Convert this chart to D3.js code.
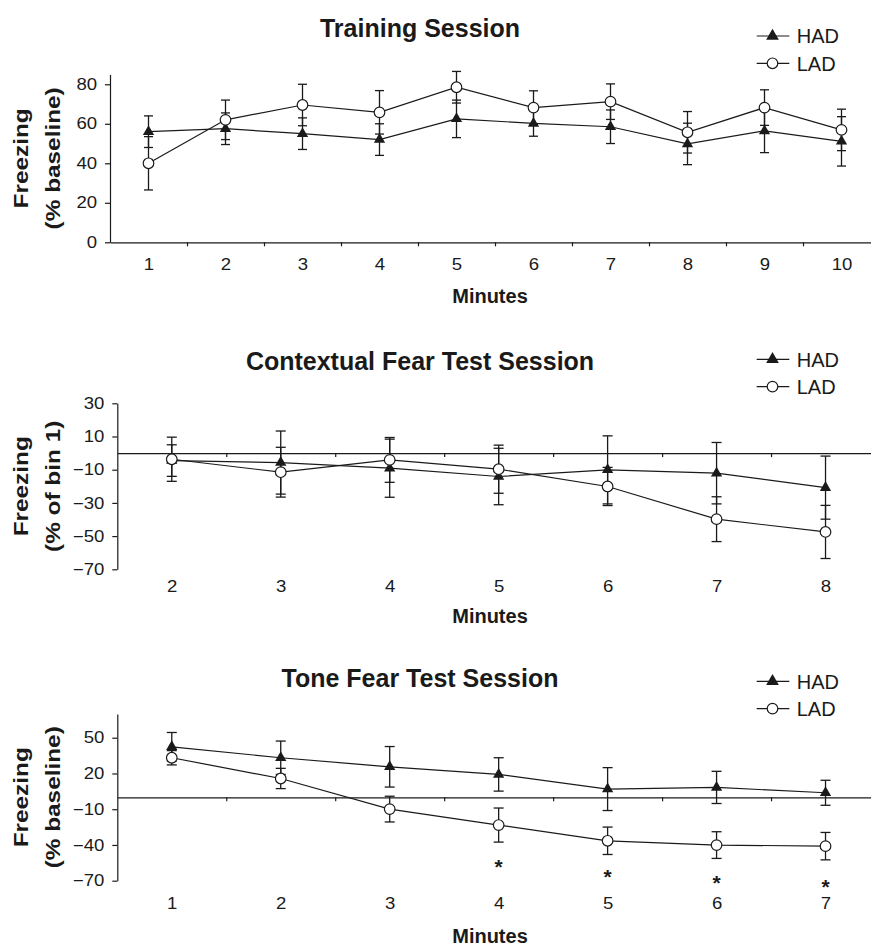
<!DOCTYPE html>
<meta charset="utf-8">
<style>
body { margin: 0; background: #fff; }
svg { display: block; font-family: "Liberation Sans", Arial, sans-serif; }
.axis path, .axis line { stroke: #1a1a1a; stroke-width: 1.2; }
.axis text { fill: #1a1a1a; font-size: 16px; }
</style>
<body>
<script src="https://cdn.jsdelivr.net/npm/d3@7"></script>
<script>
'use strict';

// ---- data ----
const trainMinutes = [1, 2, 3, 4, 5, 6, 7, 8, 9, 10];
const trainHAD    = [56, 57.5, 55, 52, 62.5, 60.2, 58.5, 49.8, 56.4, 51.1];
const trainHADerr = [8, 8, 8, 8, 9.5, 6.5, 8.5, 10.5, 11, 12.5];
const trainLAD    = [40, 62, 69.5, 65.8, 78.5, 68.2, 71.2, 55.7, 68.2, 56.9];
const trainLADerr = [13.5, 10, 10.5, 11, 8, 8.5, 9, 10.5, 9, 10.5];
const trainTicks  = [0, 20, 40, 60, 80];

const ctxMinutes = [2, 3, 4, 5, 6, 7, 8];
const ctxHAD    = [-4.5, -5.7, -9.1, -14.1, -10.1, -12.1, -20.8];
const ctxHADerr = [9.5, 19, 17.5, 17, 20.5, 18.5, 19];
const ctxLAD    = [-3.7, -11.5, -4.1, -9.7, -20.1, -39.8, -47.5];
const ctxLADerr = [13.3, 15, 13.5, 14.5, 11.5, 13.5, 16];
const ctxTicks  = [-70, -50, -30, -10, 10, 30];

const toneMinutes = [1, 2, 3, 4, 5, 6, 7];
const toneHAD    = [42.4, 33.2, 25.6, 19.2, 6.9, 8.3, 3.8];
const toneHADerr = [12, 14, 17, 14, 18, 13.5, 10.5];
const toneLAD    = [33.2, 15.8, -9.9, -23.3, -36.5, -40.1, -41];
const toneLADerr = [6, 8.5, 10.8, 14.3, 11.5, 11.2, 11.5];
const toneTicks  = [-70, -40, -10, 20, 50];
const starMinutes = [4, 5, 6, 7];
const starLevel   = [-54, -62.4, -67.5, -71.2];

// ---- layout ----
const width = 871, height = 946,
      right = 880,          // axes run off the right edge
      ink = "#1a1a1a",
      stretch = 1.16;       // axis text in the figure is set wide

const panels = [
  {title: "Training Session", ylab: "(% baseline)", minutes: trainMinutes,
   had: trainHAD, hadErr: trainHADerr, lad: trainLAD, ladErr: trainLADerr,
   ticks: trainTicks, yDomain: [0, 85], yRange: [242.3, 74.4], left: 110,
   zeroLine: false, titleY: 37, legendY: 36, minutesY: 303, labelPad: 16, cap: 9},
  {title: "Contextual Fear Test Session", ylab: "(% of bin 1)", minutes: ctxMinutes,
   had: ctxHAD, hadErr: ctxHADerr, lad: ctxLAD, ladErr: ctxLADerr,
   ticks: ctxTicks, yDomain: [-70, 30], yRange: [569.3, 403.3], left: 117.3,
   zeroLine: true, titleY: 370, legendY: 359.3, minutesY: 623, labelPad: 11.7, cap: 10},
  {title: "Tone Fear Test Session", ylab: "(% baseline)", minutes: toneMinutes,
   had: toneHAD, hadErr: toneHADerr, lad: toneLAD, ladErr: toneLADerr,
   ticks: toneTicks, yDomain: [-70, 70], yRange: [880.7, 713.9], left: 117.3,
   zeroLine: true, titleY: 687, legendY: 681.3, minutesY: 943, labelPad: 17, cap: 10,
   stars: {minutes: starMinutes, level: starLevel}}
];

const svg = d3.select("body").append("svg")
    .attr("width", width)
    .attr("height", height);

svg.append("rect").attr("width", width).attr("height", height).attr("fill", "#fff");

const triangle = d3.symbol().type(d3.symbolTriangle);

panels.forEach(function(p) {
  const g = svg.append("g");
  const first = p.minutes[0], last = p.minutes[p.minutes.length - 1];

  const x = d3.scaleLinear().domain([first - 0.5, last + 0.5]).range([p.left, right]);
  const y = d3.scaleLinear().domain(p.yDomain).range(p.yRange);
  const base = p.zeroLine ? y(0) : p.yRange[0];

  // left axis
  const yAxis = g.append("g")
      .attr("class", "axis")
      .attr("transform", "translate(" + p.left + ",0)")
      .call(d3.axisLeft(y).tickValues(p.ticks).tickSize(5).tickSizeOuter(0));
  yAxis.selectAll("text")
      .attr("x", -13 / stretch)
      .attr("transform", "scale(" + stretch + ",1)");

  // horizontal axis (or zero line) with ticks between bins
  const bounds = p.minutes.slice(1).map((m) => m - 0.5);
  g.append("g")
      .attr("class", "axis")
      .attr("transform", "translate(0," + base + ")")
      .call(d3.axisBottom(x).tickValues(bounds).tickFormat("").tickSize(4).tickSizeOuter(0));

  // minute labels
  const xLab = g.append("g")
      .attr("class", "axis")
      .attr("transform", "translate(0," + p.yRange[0] + ")")
      .call(d3.axisBottom(x).tickValues(p.minutes).tickFormat(d3.format("d"))
            .tickSize(0).tickPadding(p.labelPad));
  xLab.select(".domain").remove();
  xLab.selectAll("text").attr("transform", "scale(" + stretch + ",1)");

  // error bars
  const series = [
    {name: "HAD", vals: p.had, errs: p.hadErr},
    {name: "LAD", vals: p.lad, errs: p.ladErr}
  ];
  series.forEach(function(s) {
    const rows = p.minutes.map((m, i) => ({m: m, v: s.vals[i], e: s.errs[i]}));
    const eb = g.append("g").attr("stroke", ink).attr("stroke-width", 1.3);
    eb.selectAll(".stem").data(rows).enter().append("line")
        .attr("x1", (d) => x(d.m)).attr("x2", (d) => x(d.m))
        .attr("y1", (d) => y(d.v + d.e)).attr("y2", (d) => y(d.v - d.e));
    eb.selectAll(".capTop").data(rows).enter().append("line")
        .attr("x1", (d) => x(d.m) - p.cap / 2).attr("x2", (d) => x(d.m) + p.cap / 2)
        .attr("y1", (d) => y(d.v + d.e)).attr("y2", (d) => y(d.v + d.e));
    eb.selectAll(".capBot").data(rows).enter().append("line")
        .attr("x1", (d) => x(d.m) - p.cap / 2).attr("x2", (d) => x(d.m) + p.cap / 2)
        .attr("y1", (d) => y(d.v - d.e)).attr("y2", (d) => y(d.v - d.e));
    s.rows = rows;
  });

  // lines
  const line = d3.line().x((d) => x(d.m)).y((d) => y(d.v));
  series.forEach(function(s) {
    g.append("path")
        .datum(s.rows)
        .attr("fill", "none")
        .attr("stroke", ink)
        .attr("stroke-width", 1.2)
        .attr("d", line);
  });

  // markers
  g.selectAll(".had").data(series[0].rows).enter().append("path")
      .attr("transform", (d) => "translate(" + x(d.m) + "," + y(d.v) + ")")
      .attr("d", triangle.size(55))
      .attr("fill", ink);
  g.selectAll(".lad").data(series[1].rows).enter().append("circle")
      .attr("cx", (d) => x(d.m))
      .attr("cy", (d) => y(d.v))
      .attr("r", 5.3)
      .attr("fill", "#fff")
      .attr("stroke", ink)
      .attr("stroke-width", 1.2);

  // significance marks
  if (p.stars) {
    g.selectAll(".star").data(p.stars.minutes).enter().append("text")
        .attr("x", (d) => x(d))
        .attr("y", (d, i) => y(p.stars.level[i]) + 12)
        .attr("text-anchor", "middle")
        .attr("font-size", 21)
        .attr("font-weight", "bold")
        .attr("fill", ink)
        .text("*");
  }

  // title
  g.append("text")
      .attr("x", 420)
      .attr("y", p.titleY)
      .attr("text-anchor", "middle")
      .attr("font-size", 25)
      .attr("font-weight", "bold")
      .attr("fill", ink)
      .text(p.title);

  // x label
  g.append("text")
      .attr("x", 490)
      .attr("y", p.minutesY)
      .attr("text-anchor", "middle")
      .attr("font-size", 20)
      .attr("font-weight", "bold")
      .attr("fill", ink)
      .text("Minutes");

  // y label, two lines
  const cy = (p.yRange[0] + p.yRange[1]) / 2;
  const yl = g.append("g")
      .attr("transform", "translate(0," + cy + ") rotate(-90) scale(" + stretch + ",1)")
      .attr("font-size", 21)
      .attr("font-weight", "bold")
      .attr("fill", ink)
      .attr("text-anchor", "middle");
  yl.append("text").attr("y", 28).text("Freezing");
  yl.append("text").attr("y", 60).text(p.ylab);

  // legend
  const leg = g.append("g").attr("transform", "translate(0," + p.legendY + ")");
  [0, 1].forEach(function(k) {
    const row = leg.append("g").attr("transform", "translate(0," + (k * 27.3) + ")");
    row.append("line")
        .attr("x1", 756.7).attr("x2", 789.3)
        .attr("stroke", ink).attr("stroke-width", 1.2);
    if (k === 0) {
      row.append("path")
          .attr("transform", "translate(772.5,0)")
          .attr("d", triangle.size(70))
          .attr("fill", ink);
    } else {
      row.append("circle")
          .attr("cx", 772.5).attr("r", 5.3)
          .attr("fill", "#fff").attr("stroke", ink).attr("stroke-width", 1.2);
    }
    row.append("text")
        .attr("x", 796.7)
        .attr("y", 7.2)
        .attr("font-size", 20)
        .attr("fill", ink)
        .text(series[k].name);
  });
});
</script>
</body>
